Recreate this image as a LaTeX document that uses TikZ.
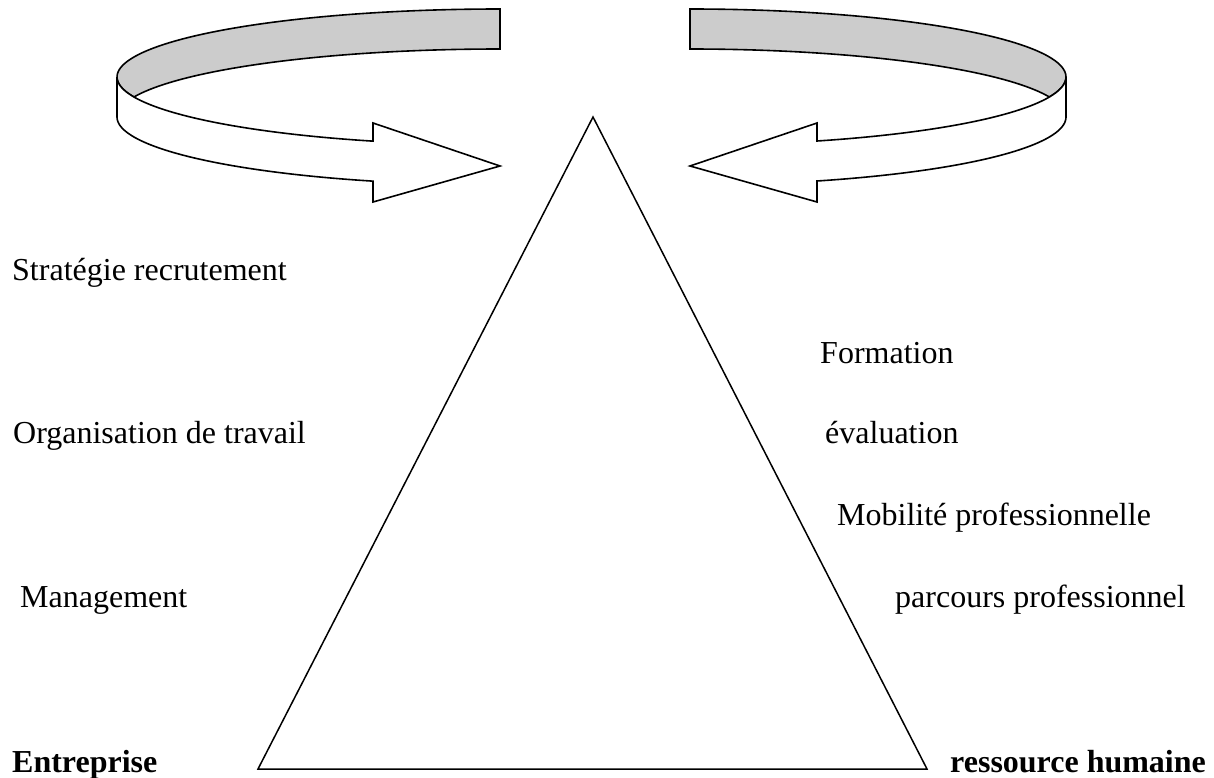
\documentclass[tikz,border=0pt]{standalone}
\usepackage{fontspec}
\setmainfont{Liberation Serif}
\definecolor{ribbongrey}{HTML}{CCCCCC}
\begin{document}
\begin{tikzpicture}[x=1pt,y=-1pt,line join=miter,
  txt/.style={anchor=base west,inner sep=0pt,font=\fontsize{32}{38}\selectfont},
  pole/.style={anchor=base west,inner sep=0pt,font=\fontsize{32}{38}\selectfont\bfseries},
  band/.style={draw=black,line width=1.6pt},
  edge/.style={draw=black,line width=1.5pt}]
\useasboundingbox (0,0) rectangle (1214,778);

% --- left curved arrow (a ribbon wound round an elliptic cylinder) ---
% inner back face, seen through the opening
\filldraw[band,fill=ribbongrey]
  (500,9) -- plot[domain=90:197.1,samples=60] ({500+383*cos(\x)},{77-68*sin(\x)})
  -- plot[domain=162.9:90,samples=60] ({500+383*cos(\x)},{117-68*sin(\x)}) -- cycle;
% front face with the arrow head
\filldraw[band,fill=white]
  (117,77) -- plot[domain=180:250.63,samples=60] ({500+383*cos(\x)},{77-68*sin(\x)})
  -- (373,123) -- (500,166) -- (373,202)
  -- plot[domain=250.63:180,samples=60] ({500+383*cos(\x)},{117-68*sin(\x)}) -- cycle;

% --- right curved arrow (mirror image) ---
\filldraw[band,fill=ribbongrey]
  (690,9) -- plot[domain=90:197.1,samples=60] ({690-376*cos(\x)},{77-68*sin(\x)})
  -- plot[domain=162.9:90,samples=60] ({690-376*cos(\x)},{117-68*sin(\x)}) -- cycle;
\filldraw[band,fill=white]
  (1066,77) -- plot[domain=180:250.26,samples=60] ({690-376*cos(\x)},{77-68*sin(\x)})
  -- (817,123) -- (690,166) -- (817,202)
  -- plot[domain=250.26:180,samples=60] ({690-376*cos(\x)},{117-68*sin(\x)}) -- cycle;

% --- central triangle ---
\coordinate (apex) at (593,117);
\coordinate (baseL) at (258,769);
\coordinate (baseR) at (927,769);
\draw[edge] (apex) -- (baseL) -- (baseR) -- cycle;

% --- labels, left side ---
\node[txt] (strat) at (12,280) {Stratégie recrutement};
\node[txt] (orga)  at (13,443) {Organisation de travail};
\node[txt] (mgmt)  at (20,607) {Management};
\node[pole] (entr) at (12,772) {Entreprise};

% --- labels, right side ---
\node[txt] (form) at (820,363) {Formation};
\node[txt] (eval) at (825,443) {évaluation};
\node[txt] (mobi) at (837,525) {Mobilité professionnelle};
\node[txt] (parc) at (895,607) {parcours professionnel};
\node[pole] (rh)  at (950,772) {ressource humaine};
\end{tikzpicture}
\end{document}
